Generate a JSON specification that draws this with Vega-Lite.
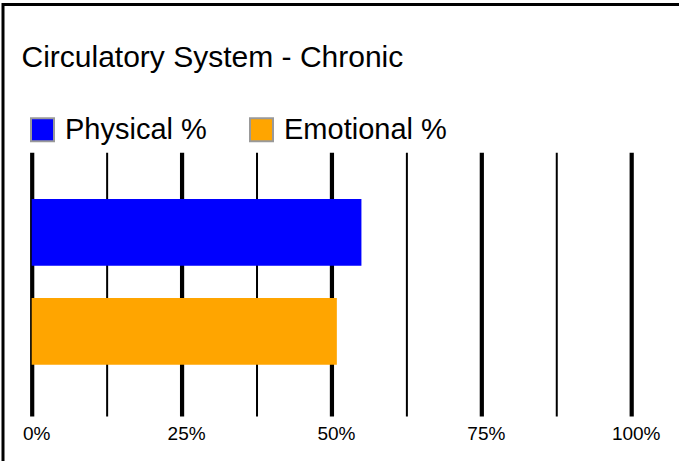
{
  "$schema": "https://vega.github.io/schema/vega-lite/v6.json",
  "width": 676,
  "height": 456.5,
  "autosize": {"type": "none"},
  "padding": {"left": 3, "top": 4.5, "right": 0, "bottom": 0},
  "background": "#ffffff",
  "config": {
    "font": "Liberation Sans",
    "view": {
      "fill": "#ffffff",
      "stroke": "#000000",
      "strokeWidth": 3,
      "strokeDash": [676, 1132.5, 456.5],
      "strokeCap": "square"
    }
  },
  "title": {
    "text": "Circulatory System - Chronic",
    "anchor": "start",
    "frame": "group",
    "orient": "top",
    "offset": -92.7,
    "baseline": "alphabetic",
    "dx": 18.5,
    "fontSize": 30,
    "fontWeight": "normal",
    "font": "Liberation Sans",
    "color": "#000000"
  },
  "data": {
    "values": [
      {"category": "Physical %", "value": 55.0},
      {"category": "Emotional %", "value": 50.9}
    ]
  },
  "mark": {"type": "bar", "x2Offset": 2.3},
  "encoding": {
    "y": {
      "field": "category",
      "type": "nominal",
      "sort": ["Physical %", "Emotional %"],
      "scale": {"range": [194.5, 360.2], "paddingInner": 0.3266, "paddingOuter": 0},
      "axis": null
    },
    "x": {
      "field": "value",
      "type": "quantitative",
      "scale": {"domain": [0, 100], "range": [28.7, 628.2], "nice": false, "zero": true},
      "axis": {
        "title": null,
        "orient": "bottom",
        "offset": -45,
        "values": [0, 12.5, 25, 37.5, 50, 62.5, 75, 87.5, 100],
        "labelExpr": "datum.value % 25 === 0 ? datum.value + '%' : ''",
        "domain": false,
        "grid": false,
        "ticks": true,
        "tickSize": -263.7,
        "tickColor": "#000000",
        "tickCap": "butt",
        "tickRound": false,
        "tickWidth": {"condition": {"test": "datum.value % 25 === 0", "value": 4.2}, "value": 2},
        "labelPadding": 286.7,
        "labelBaseline": "alphabetic",
        "labelFontSize": 19,
        "labelFont": "Liberation Sans",
        "labelColor": "#000000",
        "labelFlush": false,
        "labelOverlap": false,
        "labelBound": false,
        "labelOffset": 4.5,
        "zindex": 0
      }
    },
    "color": {
      "field": "category",
      "type": "nominal",
      "sort": ["Physical %", "Emotional %"],
      "scale": {"domain": ["Physical %", "Emotional %"], "range": ["#0000ff", "#ffa500"]},
      "legend": {
        "orient": "none",
        "legendX": 25,
        "legendY": 110.8,
        "direction": "horizontal",
        "title": null,
        "padding": 0,
        "symbolType": "square",
        "symbolSize": 529,
        "symbolStrokeColor": "#999999",
        "symbolStrokeWidth": 2,
        "symbolOpacity": 1,
        "labelFontSize": 29,
        "labelFont": "Liberation Sans",
        "labelColor": "#000000",
        "labelOffset": 8,
        "labelLimit": 0,
        "columnPadding": 39,
        "encode": {
          "symbols": {"update": {"stroke": {"value": "#999999"}, "strokeWidth": {"value": 2}}}
        }
      }
    }
  }
}
